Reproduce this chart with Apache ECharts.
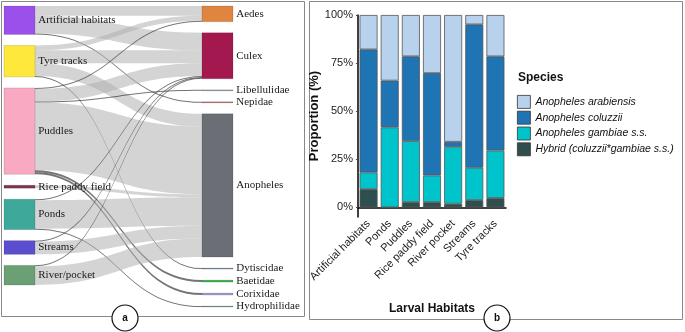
<!DOCTYPE html>
<html>
<head>
<meta charset="utf-8">
<script src="https://cdn.jsdelivr.net/npm/echarts@6/dist/echarts.min.js"></script>
<style>
  html, body { margin: 0; padding: 0; background: #fff; }
  #chart { width: 685px; height: 332px; }
</style>
</head>
<body>
<div id="chart"></div>
<script>
// Panel a: habitats -> taxa (sankey)
const habitats = ['Artificial habitats', 'Tyre tracks', 'Puddles', 'Rice paddy field', 'Ponds', 'Streams', 'River/pocket'];
const habitatColors = ['#9b50ec', '#ffe83c', '#f9a9c1', '#7e3152', '#3ea99b', '#5b4fd0', '#6b9f74'];
const taxa = ['Aedes', 'Culex', 'Libellulidae', 'Nepidae', 'Anopheles', 'Dytiscidae', 'Baetidae', 'Corixidae', 'Hydrophilidae'];
const taxaColors = ['#e0853f', '#a3194f', '#8192a8', '#a5624c', '#6b6e74', '#6c80a0', '#3db24b', '#9c9cd2', '#6d9c9a'];

// [habitat, taxon, count]
const flows = [
    ['Artificial habitats', 'Aedes', 10],
    ['Artificial habitats', 'Culex', 18],
    ['Artificial habitats', 'Nepidae', 1],
    ['Tyre tracks', 'Aedes', 5],
    ['Tyre tracks', 'Culex', 13],
    ['Tyre tracks', 'Anopheles', 13],
    ['Tyre tracks', 'Dytiscidae', 1],
    ['Puddles', 'Aedes', 1],
    ['Puddles', 'Culex', 13],
    ['Puddles', 'Libellulidae', 1],
    ['Puddles', 'Anopheles', 69],
    ['Puddles', 'Baetidae', 2],
    ['Puddles', 'Corixidae', 2],
    ['Rice paddy field', 'Anopheles', 3],
    ['Ponds', 'Culex', 1],
    ['Ponds', 'Anopheles', 29],
    ['Ponds', 'Hydrophilidae', 1],
    ['Streams', 'Culex', 1],
    ['Streams', 'Anopheles', 13],
    ['River/pocket', 'Culex', 1],
    ['River/pocket', 'Anopheles', 19]
];

// Panel b: species proportions per larval habitat (%)
const larvalHabitats = ['Artificial habitats', 'Ponds', 'Puddles', 'Rice paddy field', 'River pocket', 'Streams', 'Tyre tracks'];
const hybrid = [9.5, 0, 2.8, 2.8, 1.9, 3.8, 4.9];
const gambiae = [8.7, 41.6, 31.7, 13.8, 29.6, 16.8, 24.7];
const coluzzii = [63.9, 24.3, 44.0, 53.2, 2.6, 74.5, 48.9];
const arabiensis = [17.9, 34.1, 21.5, 30.2, 65.9, 4.9, 21.5];
const yTicks = [0, 25, 50, 75, 100];

const speciesNames = ['Anopheles arabiensis', 'Anopheles coluzzii', 'Anopheles gambiae s.s.', 'Hybrid (coluzzii*gambiae s.s.)'];
const speciesColors = ['#b8d2ee', '#1f74b4', '#00c4cc', '#2f4f4e'];

const chart = echarts.init(document.getElementById('chart'));

const sankeyNodes = habitats.map((name, i) => ({ name, itemStyle: { color: habitatColors[i] } }))
    .concat(taxa.map((name, i) => ({ name, itemStyle: { color: taxaColors[i] } })));

const sankeyLinks = flows.map(([source, target, value]) => ({
    source, target, value,
    lineStyle: value <= 2
        ? { color: '#2a2a2a', opacity: 0.65 }
        : { color: '#b0b0b0', opacity: 0.55 }
}));

function barSeries(name, data, color) {
    return {
        name, type: 'bar', stack: 'sp',
        xAxisIndex: 0, yAxisIndex: 0,
        barWidth: 18,
        data,
        itemStyle: { color, borderColor: '#555', borderWidth: 0.8 },
        emphasis: { disabled: true }
    };
}

const option = {
    animation: false,
    textStyle: { fontFamily: 'Liberation Sans' },
    grid: { left: 358, right: 179, top: 15, bottom: 115 },
    xAxis: {
        type: 'category',
        data: larvalHabitats,
        name: 'Larval Habitats',
        nameLocation: 'middle',
        nameGap: 86,
        nameTextStyle: { fontSize: 12, fontWeight: 'bold', color: '#111' },
        axisLine: { lineStyle: { color: '#000', width: 1.5 } },
        axisTick: { show: false },
        axisLabel: { rotate: 45, fontSize: 11, color: '#222', margin: 5, interval: 0 }
    },
    yAxis: {
        type: 'value',
        min: -5, max: 100,
        name: 'Proportion (%)',
        nameLocation: 'middle',
        nameGap: 30,
        nameRotate: 90,
        nameTextStyle: { fontSize: 13, fontWeight: 'bold', color: '#111' },
        axisLine: { show: true, lineStyle: { color: '#000', width: 1.5 } },
        axisTick: { show: true, length: 2, lineStyle: { color: '#444' }, customValues: yTicks },
        axisLabel: { fontSize: 11, color: '#222', margin: 5, customValues: yTicks, formatter: v => v + '%' },
        splitLine: { show: false }
    },
    legend: {
        data: speciesNames,
        orient: 'vertical',
        left: 512, top: 90,
        itemWidth: 13, itemHeight: 13, itemGap: 2,
        icon: 'rect',
        itemStyle: { borderColor: '#333', borderWidth: 0.8 },
        textStyle: { fontSize: 10.5, fontStyle: 'italic', color: '#111' },
        selectedMode: false
    },
    graphic: [
        { type: 'rect', shape: { x: 1.5, y: 1.5, width: 303, height: 315 }, style: { fill: 'none', stroke: '#888', lineWidth: 1 }, z: -1 },
        { type: 'rect', shape: { x: 309.5, y: 1.5, width: 373, height: 318 }, style: { fill: 'none', stroke: '#888', lineWidth: 1 }, z: -1 },
        { type: 'text', left: 518, top: 72, style: { text: 'Species', font: 'bold 12px Liberation Sans', fill: '#111' } },
        { type: 'circle', shape: { cx: 125, cy: 318, r: 13 }, style: { fill: '#fff', stroke: '#111', lineWidth: 1.2 }, z: 10 },
        { type: 'text', x: 125, y: 318, style: { text: 'a', font: 'bold 10px Liberation Sans', fill: '#111', align: 'center', verticalAlign: 'middle' }, z: 11 },
        { type: 'circle', shape: { cx: 497, cy: 318, r: 13 }, style: { fill: '#fff', stroke: '#111', lineWidth: 1.2 }, z: 10 },
        { type: 'text', x: 497, y: 318, style: { text: 'b', font: 'bold 10px Liberation Sans', fill: '#111', align: 'center', verticalAlign: 'middle' }, z: 11 }
    ],
    series: [
        {
            type: 'sankey',
            left: 4, top: 6, right: 452, bottom: 25,
            nodeWidth: 31,
            nodeGap: 11,
            layoutIterations: 0,
            draggable: false,
            emphasis: { disabled: true },
            data: sankeyNodes,
            links: sankeyLinks,
            itemStyle: { borderColor: 'rgba(0,0,0,0.25)', borderWidth: 0.5 },
            lineStyle: { curveness: 0.5 },
            label: { position: 'right', distance: 3, fontFamily: 'Liberation Serif', fontSize: 11, color: '#1a1a1a' }
        },
        barSeries(speciesNames[3], hybrid, speciesColors[3]),
        barSeries(speciesNames[2], gambiae, speciesColors[2]),
        barSeries(speciesNames[1], coluzzii, speciesColors[1]),
        barSeries(speciesNames[0], arabiensis, speciesColors[0])
    ]
};

chart.setOption(option);
</script>
</body>
</html>
